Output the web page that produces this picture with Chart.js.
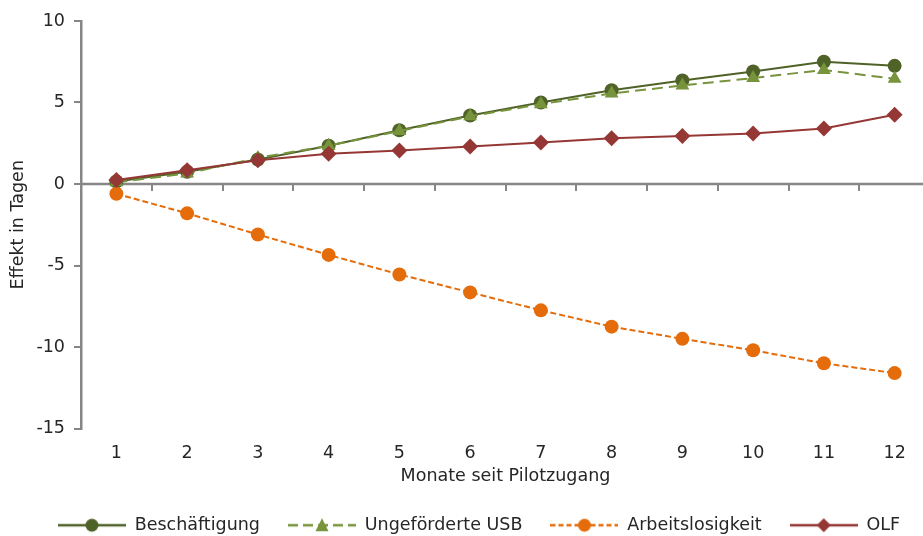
<!DOCTYPE html>
<html>
<head>
<meta charset="utf-8">
<script src="https://cdn.jsdelivr.net/npm/chart.js@4.4.0/dist/chart.umd.min.js"></script>
<style>
  html, body { margin: 0; padding: 0; background: white; overflow: hidden; }
  #chartContainer { width: 958px; height: 544px; }
</style>
</head>
<body>
<div id="chartContainer"><canvas id="chartCanvas"></canvas></div>
<script>
  // Months since pilot entry (x categories)
  const months = ['1', '2', '3', '4', '5', '6', '7', '8', '9', '10', '11', '12'];

  // Effect in days
  const beschaeftigung = [0.15, 0.75, 1.5, 2.35, 3.3, 4.2, 5.0, 5.75, 6.35, 6.9, 7.5, 7.25];
  const ungefoerderteUSB = [0.1, 0.65, 1.6, 2.35, 3.25, 4.15, 4.9, 5.55, 6.05, 6.5, 7.0, 6.45];
  const arbeitslosigkeit = [-0.6, -1.8, -3.1, -4.35, -5.55, -6.65, -7.75, -8.75, -9.5, -10.2, -11.0, -11.6];
  const olf = [0.25, 0.85, 1.45, 1.85, 2.05, 2.3, 2.55, 2.8, 2.95, 3.1, 3.4, 4.25];

  const DARK_GREEN = '#4F6228';
  const LIGHT_GREEN = '#77933C';
  const ORANGE = '#E46C0A';
  const RED = '#953735';
  const AXIS = '#868686';
  const TEXT = '#262626';
  const FONT = { family: '"DejaVu Sans", sans-serif', size: 17.5 };

  // legend icon: line segment with the marker in the middle
  function makeIcon(color, dash, marker) {
    const c = document.createElement('canvas');
    c.width = 68; c.height = 16;
    const g = c.getContext('2d');
    g.strokeStyle = color;
    g.lineWidth = 2.5;
    g.setLineDash(dash);
    g.beginPath(); g.moveTo(0, 8); g.lineTo(68, 8); g.stroke();
    g.setLineDash([]);
    g.fillStyle = color;
    g.beginPath();
    if (marker === 'circle') {
      g.arc(34, 8, 6.5, 0, Math.PI * 2);
    } else if (marker === 'triangle') {
      g.moveTo(34, 1); g.lineTo(40.5, 14); g.lineTo(27.5, 14); g.closePath();
    } else {
      g.moveTo(34, 1); g.lineTo(41, 8); g.lineTo(34, 15); g.lineTo(27, 8); g.closePath();
    }
    g.fill();
    return c;
  }

  const icons = [
    makeIcon(DARK_GREEN, [], 'circle'),
    makeIcon(LIGHT_GREEN, [10, 5], 'triangle'),
    makeIcon(ORANGE, [5, 3], 'circle'),
    makeIcon(RED, [], 'diamond')
  ];

  // zero line with downward tick marks (Excel-style horizontal axis crossing at 0)
  const zeroAxis = {
    id: 'zeroAxis',
    beforeDatasetsDraw(chart) {
      const { ctx, chartArea, scales: { x, y } } = chart;
      const y0 = y.getPixelForValue(0);
      const step = (chartArea.right - chartArea.left) / months.length;
      ctx.save();
      ctx.strokeStyle = AXIS;
      ctx.lineWidth = 2.5;
      ctx.beginPath();
      ctx.moveTo(chartArea.left, y0);
      ctx.lineTo(chartArea.right, y0);
      ctx.stroke();
      ctx.lineWidth = 2;
      ctx.beginPath();
      for (let i = 1; i <= months.length; i++) {
        const px = Math.round(x.left + i * step);
        ctx.moveTo(px, y0);
        ctx.lineTo(px, y0 + 7);
      }
      ctx.stroke();
      ctx.restore();
    }
  };

  const ctx = document.getElementById('chartCanvas').getContext('2d');
  new Chart(ctx, {
    type: 'line',
    data: {
      labels: months,
      datasets: [
        {
          label: 'Beschäftigung',
          data: beschaeftigung,
          borderColor: DARK_GREEN,
          backgroundColor: DARK_GREEN,
          borderWidth: 2,
          pointStyle: 'circle',
          pointRadius: 7,
          pointBorderWidth: 0,
          order: 4
        },
        {
          label: 'Ungeförderte USB',
          data: ungefoerderteUSB,
          borderColor: LIGHT_GREEN,
          backgroundColor: LIGHT_GREEN,
          borderWidth: 2,
          borderDash: [11, 6],
          pointStyle: 'triangle',
          pointRadius: 8,
          pointBorderWidth: 0,
          order: 3
        },
        {
          label: 'Arbeitslosigkeit',
          data: arbeitslosigkeit,
          borderColor: ORANGE,
          backgroundColor: ORANGE,
          borderWidth: 2,
          borderDash: [6, 3],
          pointStyle: 'circle',
          pointRadius: 7,
          pointBorderWidth: 0,
          order: 2
        },
        {
          label: 'OLF',
          data: olf,
          borderColor: RED,
          backgroundColor: RED,
          borderWidth: 2,
          pointStyle: 'rectRot',
          pointRadius: 8,
          pointBorderWidth: 0,
          order: 1
        }
      ]
    },
    options: {
      responsive: true,
      maintainAspectRatio: false,
      animation: false,
      layout: { padding: { top: 21, left: 0, right: 0, bottom: 0 } },
      plugins: {
        tooltip: { enabled: false },
        legend: {
          position: 'bottom',
          labels: {
            usePointStyle: true,
            pointStyleWidth: 68,
            padding: 28,
            color: TEXT,
            font: FONT,
            sort: (a, b) => a.datasetIndex - b.datasetIndex,
            generateLabels(chart) {
              return chart.data.datasets.map((ds, i) => ({
                text: ds.label,
                datasetIndex: i,
                pointStyle: icons[i],
                fillStyle: ds.borderColor,
                strokeStyle: ds.borderColor,
                fontColor: TEXT,
                lineWidth: 0,
                hidden: false
              }));
            }
          }
        }
      },
      scales: {
        x: {
          offset: true,
          grid: { display: false, drawTicks: false },
          border: { display: false },
          ticks: { color: TEXT, font: FONT, padding: 14 },
          title: {
            display: true,
            text: 'Monate seit Pilotzugang',
            color: TEXT,
            font: FONT,
            padding: { top: 0, bottom: 2 }
          },
          afterFit(scale) { scale.height = 60; }
        },
        y: {
          min: -15,
          max: 10,
          ticks: { stepSize: 5, color: TEXT, font: FONT, padding: 9 },
          grid: { drawOnChartArea: false, drawTicks: true, tickLength: 7, color: AXIS, lineWidth: 2 },
          border: { color: AXIS, width: 2.5 },
          title: {
            display: true,
            text: 'Effekt in Tagen',
            color: TEXT,
            font: FONT,
            padding: { top: 8, bottom: 0 }
          },
          afterFit(scale) { scale.width = 81; }
        },
        // empty right-hand strip so the plot runs past the window edge as in the reference
        yPad: {
          position: 'right',
          display: true,
          grid: { display: false, drawTicks: false },
          border: { display: false },
          ticks: { display: false },
          afterFit(scale) { scale.width = 28; }
        }
      }
    },
    plugins: [zeroAxis]
  });
</script>
</body>
</html>
